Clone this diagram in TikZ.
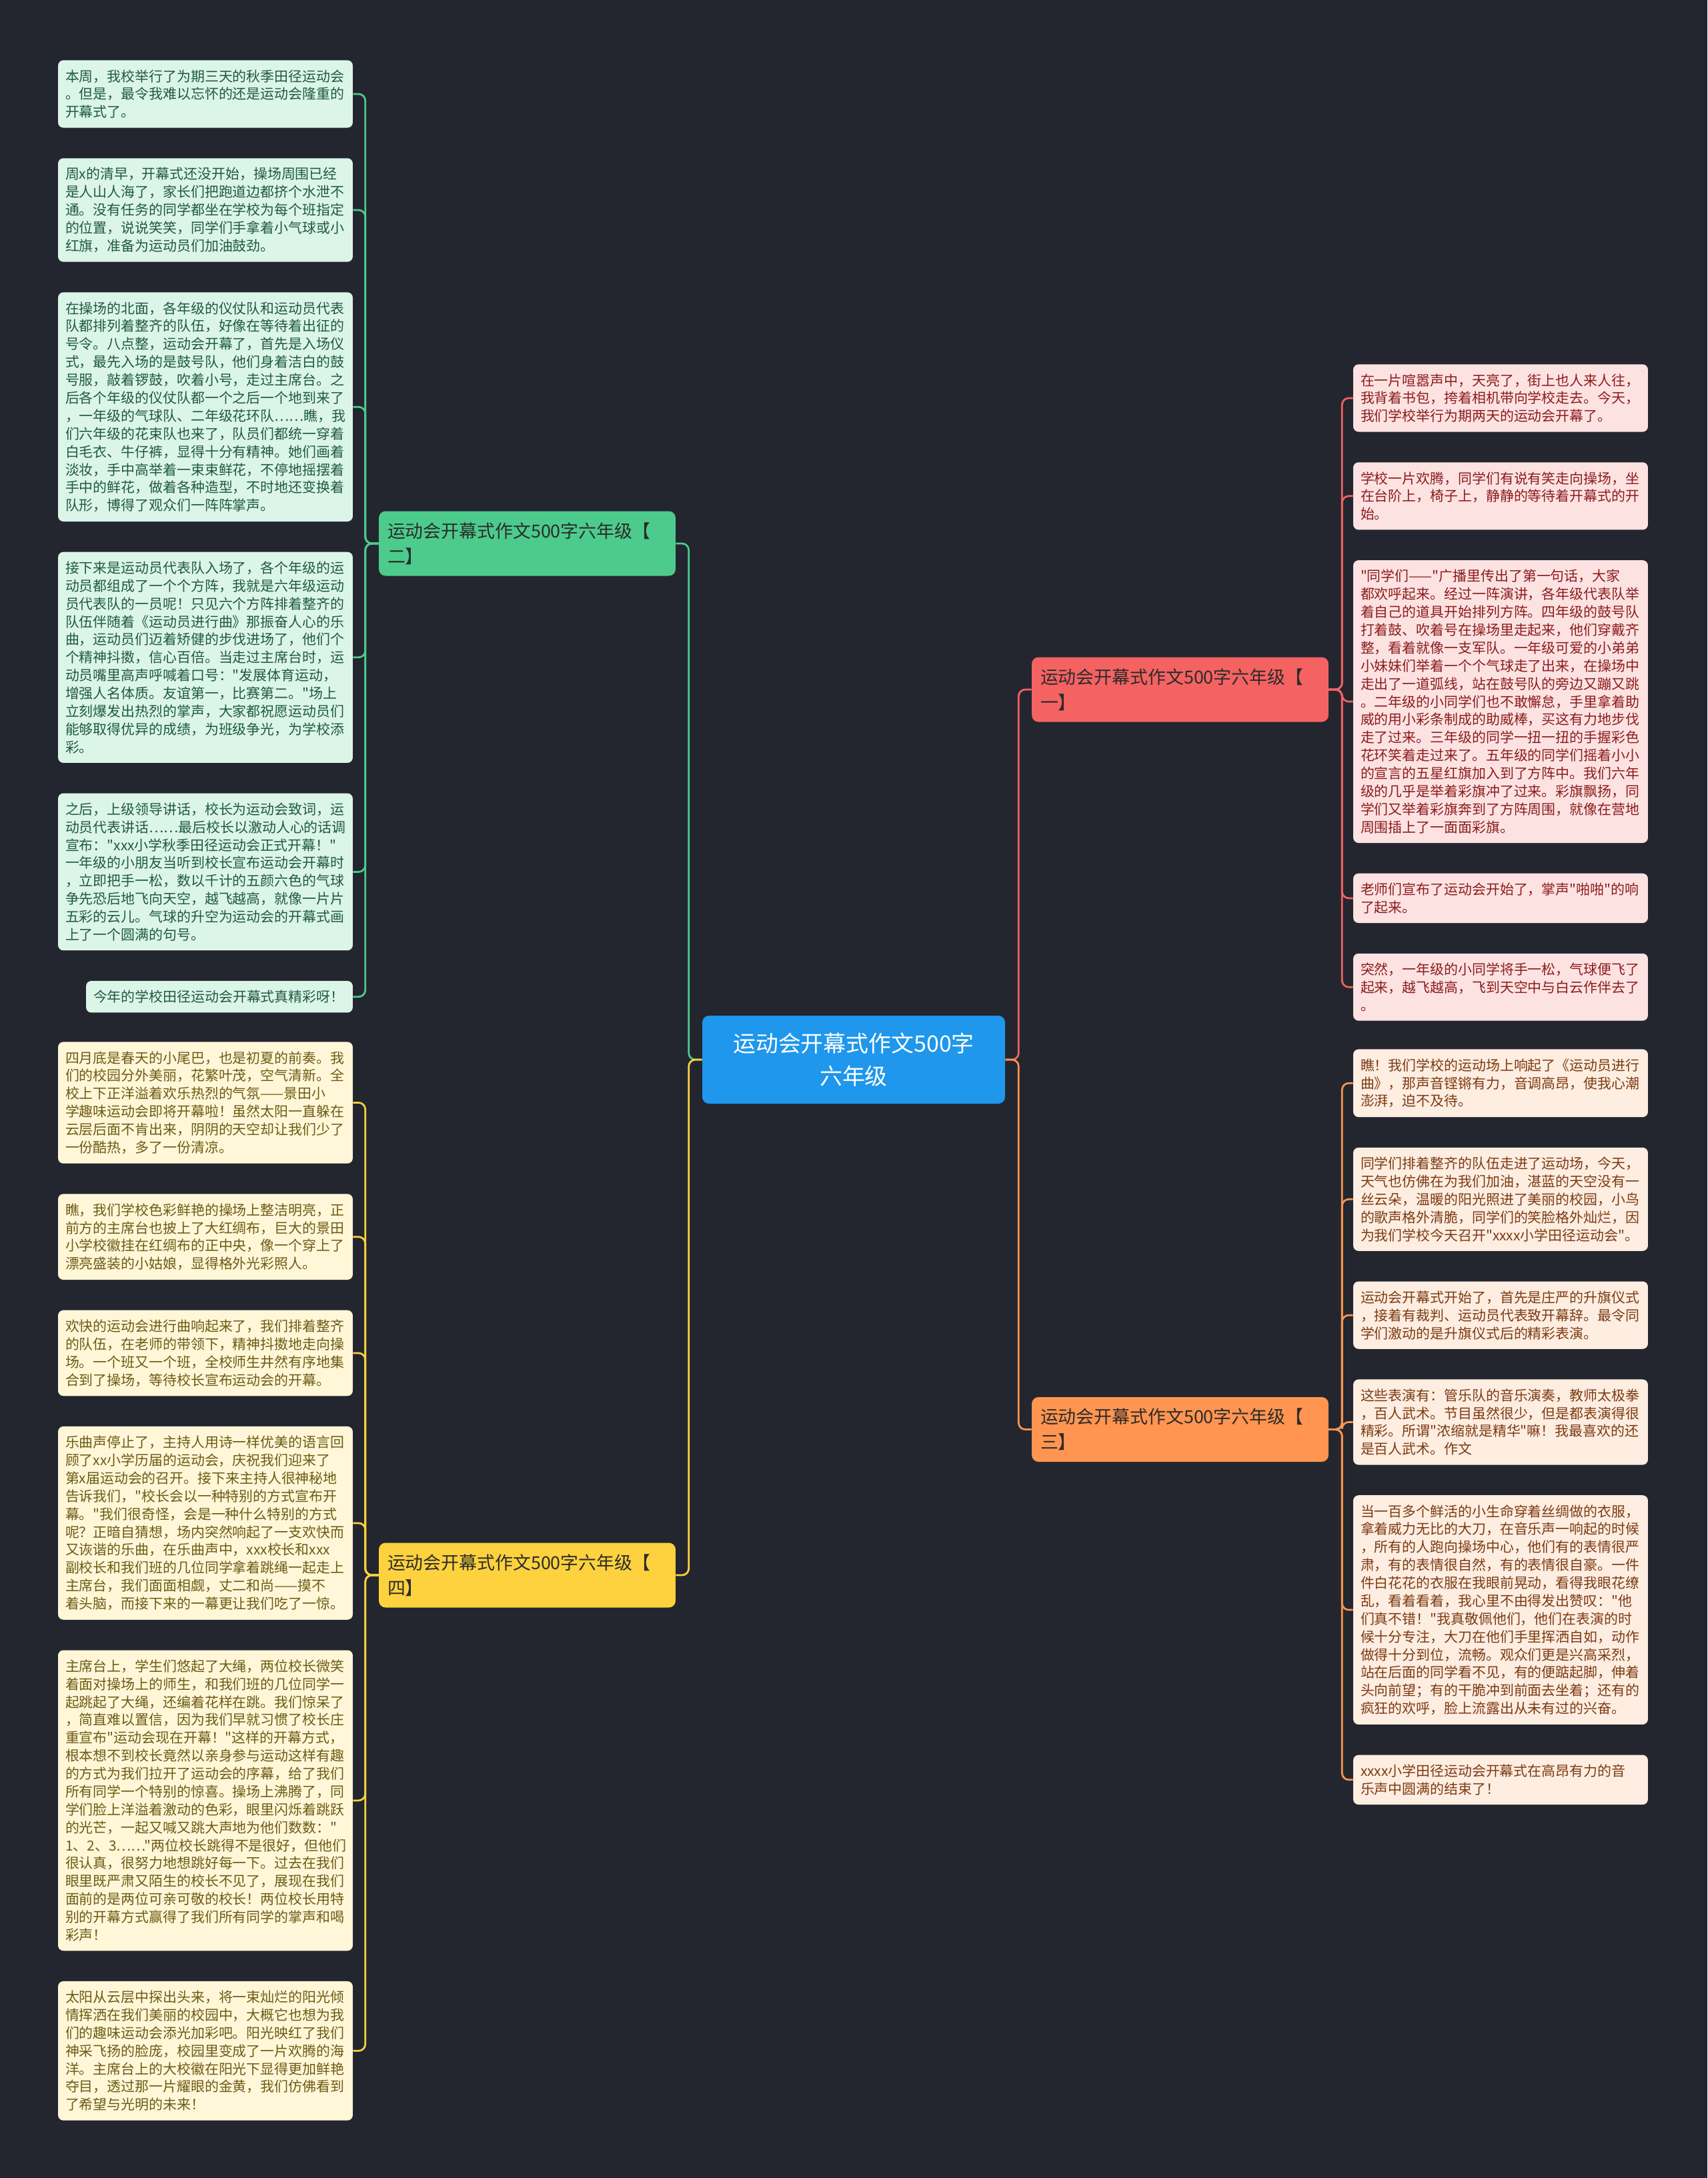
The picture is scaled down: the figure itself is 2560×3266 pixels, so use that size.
\documentclass[tikz,border=0pt]{standalone}
\usepackage{fontspec}
\setmainfont{Noto Sans CJK SC}[Ligatures=TeXOff]
\usepackage{tikz}
\usetikzlibrary{positioning,calc}
\definecolor{MeetBg}{HTML}{23262F}
\definecolor{MeetBlue}{HTML}{1E97EC}
\definecolor{MeetRed}{HTML}{F46262}
\definecolor{MeetGreen}{HTML}{4CCB8D}
\definecolor{MeetOrange}{HTML}{FF9550}
\definecolor{MeetYellow}{HTML}{FDD23E}
\definecolor{MeetPaleRed}{HTML}{FDE2E2}
\definecolor{MeetPaleGreen}{HTML}{DCF5E9}
\definecolor{MeetPaleOrange}{HTML}{FEEDE1}
\definecolor{MeetPaleYellow}{HTML}{FFF7D8}
\definecolor{MeetInkRed}{HTML}{8B1C1C}
\definecolor{MeetInkGreen}{HTML}{1F5A3E}
\definecolor{MeetInkOrange}{HTML}{7B3B12}
\definecolor{MeetInkYellow}{HTML}{6E5A14}
\definecolor{MeetInk}{HTML}{2B2B2B}
\tikzset{
  mhub/.style={fill=MeetBlue,text=white,rounded corners=0.2cm,minimum width=9.08cm,
    minimum height=2.64cm,align=center,font=\fontsize{19.3}{28.3}\selectfont},
  mbranch/.style={rounded corners=0.2cm,text width=8.38cm,inner xsep=0.26cm,
    minimum height=1.94cm,align=left,text=MeetInk,font=\fontsize{15.3}{21.5}\selectfont},
  mleaf/.style={rounded corners=0.16cm,text width=8.4cm,inner xsep=0.22cm,inner ysep=0.28cm,
    align=left,font=\fontsize{11.9}{15.3}\selectfont},
  mlink/.style={line width=0.055cm,rounded corners=0.2cm}
}
\begin{document}
\begin{tikzpicture}[x=0.02cm,y=-0.02cm]
  \tikzset{
    redleaf/.style={mleaf,fill=MeetPaleRed,text=MeetInkRed},
    greenleaf/.style={mleaf,fill=MeetPaleGreen,text=MeetInkGreen},
    orangeleaf/.style={mleaf,fill=MeetPaleOrange,text=MeetInkOrange},
    yellowleaf/.style={mleaf,fill=MeetPaleYellow,text=MeetInkYellow},
    redlink/.style={mlink,MeetRed},
    greenlink/.style={mlink,MeetGreen},
    orangelink/.style={mlink,MeetOrange},
    yellowlink/.style={mlink,MeetYellow}
  }

  \fill[MeetBg] (0,0) rectangle (2560,3266);

  \node[mhub] (hub) at (1280,1589) {运动会开幕式作文500字\\六年级};

  \node[mbranch,fill=MeetRed] (b1) at (1769.5,1034) {运动会开幕式作文500字六年级【\\一】};
  \node[mbranch,fill=MeetGreen] (b2) at (790.5,815) {运动会开幕式作文500字六年级【\\二】};
  \node[mbranch,fill=MeetOrange] (b3) at (1769.5,2143.5) {运动会开幕式作文500字六年级【\\三】};
  \node[mbranch,fill=MeetYellow] (b4) at (790.5,2362) {运动会开幕式作文500字六年级【\\四】};

  \coordinate (hubL) at ($(hub.west)+(-20,0)$);
  \coordinate (hubR) at ($(hub.east)+(20,0)$);
  \draw[redlink] (hub.east) -- (hubR) |- (b1.west);
  \draw[orangelink] (hub.east) -- (hubR) |- (b3.west);
  \draw[greenlink] (hub.west) -- (hubL) |- (b2.east);
  \draw[yellowlink] (hub.west) -- (hubL) |- (b4.east);

  \node[greenleaf,anchor=north] (g1) at (308,90)
    {本周，我校举行了为期三天的秋季田径运动会\\。但是，最令我难以忘怀的还是运动会隆重的\\开幕式了。};
  \node[greenleaf,below=0.9cm of g1] (g2)
    {周x的清早，开幕式还没开始，操场周围已经\\是人山人海了，家长们把跑道边都挤个水泄不\\通。没有任务的同学都坐在学校为每个班指定\\的位置，说说笑笑，同学们手拿着小气球或小\\红旗，准备为运动员们加油鼓劲。};
  \node[greenleaf,below=0.9cm of g2] (g3)
    {在操场的北面，各年级的仪仗队和运动员代表\\队都排列着整齐的队伍，好像在等待着出征的\\号令。八点整，运动会开幕了，首先是入场仪\\式，最先入场的是鼓号队，他们身着洁白的鼓\\号服，敲着锣鼓，吹着小号，走过主席台。之\\后各个年级的仪仗队都一个之后一个地到来了\\，一年级的气球队、二年级花环队……瞧，我\\们六年级的花束队也来了，队员们都统一穿着\\白毛衣、牛仔裤，显得十分有精神。她们画着\\淡妆，手中高举着一束束鲜花，不停地摇摆着\\手中的鲜花，做着各种造型，不时地还变换着\\队形，博得了观众们一阵阵掌声。};
  \node[greenleaf,below=0.9cm of g3] (g4)
    {接下来是运动员代表队入场了，各个年级的运\\动员都组成了一个个方阵，我就是六年级运动\\员代表队的一员呢！只见六个方阵排着整齐的\\队伍伴随着《运动员进行曲》那振奋人心的乐\\曲，运动员们迈着矫健的步伐进场了，他们个\\个精神抖擞，信心百倍。当走过主席台时，运\\动员嘴里高声呼喊着口号："发展体育运动，\\增强人名体质。友谊第一，比赛第二。"场上\\立刻爆发出热烈的掌声，大家都祝愿运动员们\\能够取得优异的成绩，为班级争光，为学校添\\彩。};
  \node[greenleaf,below=0.9cm of g4] (g5)
    {之后，上级领导讲话，校长为运动会致词，运\\动员代表讲话……最后校长以激动人心的话调\\宣布："xxx小学秋季田径运动会正式开幕！"\\一年级的小朋友当听到校长宣布运动会开幕时\\，立即把手一松，数以千计的五颜六色的气球\\争先恐后地飞向天空，越飞越高，就像一片片\\五彩的云儿。气球的升空为运动会的开幕式画\\上了一个圆满的句号。};
  \node[greenleaf,text width=7.56cm,below=0.9cm of g5.south east,anchor=north east] (g6)
    {今年的学校田径运动会开幕式真精彩呀！};

  \node[yellowleaf,anchor=north] (y1) at (308,1562)
    {四月底是春天的小尾巴，也是初夏的前奏。我\\们的校园分外美丽，花繁叶茂，空气清新。全\\校上下正洋溢着欢乐热烈的气氛——景田小\\学趣味运动会即将开幕啦！虽然太阳一直躲在\\云层后面不肯出来，阴阴的天空却让我们少了\\一份酷热，多了一份清凉。};
  \node[yellowleaf,below=0.9cm of y1] (y2)
    {瞧，我们学校色彩鲜艳的操场上整洁明亮，正\\前方的主席台也披上了大红绸布，巨大的景田\\小学校徽挂在红绸布的正中央，像一个穿上了\\漂亮盛装的小姑娘，显得格外光彩照人。};
  \node[yellowleaf,below=0.9cm of y2] (y3)
    {欢快的运动会进行曲响起来了，我们排着整齐\\的队伍，在老师的带领下，精神抖擞地走向操\\场。一个班又一个班，全校师生井然有序地集\\合到了操场，等待校长宣布运动会的开幕。};
  \node[yellowleaf,below=0.9cm of y3] (y4)
    {乐曲声停止了，主持人用诗一样优美的语言回\\顾了xx小学历届的运动会，庆祝我们迎来了\\第x届运动会的召开。接下来主持人很神秘地\\告诉我们，"校长会以一种特别的方式宣布开\\幕。"我们很奇怪，会是一种什么特别的方式\\呢？正暗自猜想，场内突然响起了一支欢快而\\又诙谐的乐曲，在乐曲声中，xxx校长和xxx\\副校长和我们班的几位同学拿着跳绳一起走上\\主席台，我们面面相觑，丈二和尚——摸不\\着头脑，而接下来的一幕更让我们吃了一惊。};
  \node[yellowleaf,below=0.9cm of y4] (y5)
    {主席台上，学生们悠起了大绳，两位校长微笑\\着面对操场上的师生，和我们班的几位同学一\\起跳起了大绳，还编着花样在跳。我们惊呆了\\，简直难以置信，因为我们早就习惯了校长庄\\重宣布"运动会现在开幕！"这样的开幕方式，\\根本想不到校长竟然以亲身参与运动这样有趣\\的方式为我们拉开了运动会的序幕，给了我们\\所有同学一个特别的惊喜。操场上沸腾了，同\\学们脸上洋溢着激动的色彩，眼里闪烁着跳跃\\的光芒，一起又喊又跳大声地为他们数数："\\1、2、3……"两位校长跳得不是很好，但他们\\很认真，很努力地想跳好每一下。过去在我们\\眼里既严肃又陌生的校长不见了，展现在我们\\面前的是两位可亲可敬的校长！两位校长用特\\别的开幕方式赢得了我们所有同学的掌声和喝\\彩声！};
  \node[yellowleaf,below=0.9cm of y5] (y6)
    {太阳从云层中探出头来，将一束灿烂的阳光倾\\情挥洒在我们美丽的校园中，大概它也想为我\\们的趣味运动会添光加彩吧。阳光映红了我们\\神采飞扬的脸庞，校园里变成了一片欢腾的海\\洋。主席台上的大校徽在阳光下显得更加鲜艳\\夺目，透过那一片耀眼的金黄，我们仿佛看到\\了希望与光明的未来！};

  \node[redleaf,anchor=north] (r1) at (2250,546)
    {在一片喧嚣声中，天亮了，街上也人来人往，\\我背着书包，挎着相机带向学校走去。今天，\\我们学校举行为期两天的运动会开幕了。};
  \node[redleaf,below=0.9cm of r1] (r2)
    {学校一片欢腾，同学们有说有笑走向操场，坐\\在台阶上，椅子上，静静的等待着开幕式的开\\始。};
  \node[redleaf,below=0.9cm of r2] (r3)
    {"同学们——"广播里传出了第一句话，大家\\都欢呼起来。经过一阵演讲，各年级代表队举\\着自己的道具开始排列方阵。四年级的鼓号队\\打着鼓、吹着号在操场里走起来，他们穿戴齐\\整，看着就像一支军队。一年级可爱的小弟弟\\小妹妹们举着一个个气球走了出来，在操场中\\走出了一道弧线，站在鼓号队的旁边又蹦又跳\\。二年级的小同学们也不敢懈怠，手里拿着助\\威的用小彩条制成的助威棒，买这有力地步伐\\走了过来。三年级的同学一扭一扭的手握彩色\\花环笑着走过来了。五年级的同学们摇着小小\\的宣言的五星红旗加入到了方阵中。我们六年\\级的几乎是举着彩旗冲了过来。彩旗飘扬，同\\学们又举着彩旗奔到了方阵周围，就像在营地\\周围插上了一面面彩旗。};
  \node[redleaf,below=0.9cm of r3] (r4)
    {老师们宣布了运动会开始了，掌声"啪啪"的响\\了起来。};
  \node[redleaf,below=0.9cm of r4] (r5)
    {突然，一年级的小同学将手一松，气球便飞了\\起来，越飞越高，飞到天空中与白云作伴去了\\。};

  \node[orangeleaf,anchor=north] (o1) at (2250,1573)
    {瞧！我们学校的运动场上响起了《运动员进行\\曲》，那声音铿锵有力，音调高昂，使我心潮\\澎湃，迫不及待。};
  \node[orangeleaf,below=0.9cm of o1] (o2)
    {同学们排着整齐的队伍走进了运动场，今天，\\天气也仿佛在为我们加油，湛蓝的天空没有一\\丝云朵，温暖的阳光照进了美丽的校园，小鸟\\的歌声格外清脆，同学们的笑脸格外灿烂，因\\为我们学校今天召开"xxxx小学田径运动会"。};
  \node[orangeleaf,below=0.9cm of o2] (o3)
    {运动会开幕式开始了，首先是庄严的升旗仪式\\，接着有裁判、运动员代表致开幕辞。最令同\\学们激动的是升旗仪式后的精彩表演。};
  \node[orangeleaf,below=0.9cm of o3] (o4)
    {这些表演有：管乐队的音乐演奏，教师太极拳\\，百人武术。节目虽然很少，但是都表演得很\\精彩。所谓"浓缩就是精华"嘛！我最喜欢的还\\是百人武术。作文};
  \node[orangeleaf,below=0.9cm of o4] (o5)
    {当一百多个鲜活的小生命穿着丝绸做的衣服，\\拿着威力无比的大刀，在音乐声一响起的时候\\，所有的人跑向操场中心，他们有的表情很严\\肃，有的表情很自然，有的表情很自豪。一件\\件白花花的衣服在我眼前晃动，看得我眼花缭\\乱，看着看着，我心里不由得发出赞叹："他\\们真不错！"我真敬佩他们，他们在表演的时\\候十分专注，大刀在他们手里挥洒自如，动作\\做得十分到位，流畅。观众们更是兴高采烈，\\站在后面的同学看不见，有的便踮起脚，伸着\\头向前望；有的干脆冲到前面去坐着；还有的\\疯狂的欢呼，脸上流露出从未有过的兴奋。};
  \node[orangeleaf,below=0.9cm of o5] (o6)
    {xxxx小学田径运动会开幕式在高昂有力的音\\乐声中圆满的结束了！};

  \coordinate (b1j) at ($(b1.east)+(20,0)$);
  \coordinate (b2j) at ($(b2.west)+(-20,0)$);
  \coordinate (b3j) at ($(b3.east)+(20,0)$);
  \coordinate (b4j) at ($(b4.west)+(-20,0)$);
  \foreach \n in {r1,r2,r3,r4,r5}
    \draw[redlink] (b1.east) -- (b1j) |- (\n.west);
  \foreach \n in {g1,g2,g3,g4,g5,g6}
    \draw[greenlink] (b2.west) -- (b2j) |- (\n.east);
  \foreach \n in {o1,o2,o3,o4,o5,o6}
    \draw[orangelink] (b3.east) -- (b3j) |- (\n.west);
  \foreach \n in {y1,y2,y3,y4,y5,y6}
    \draw[yellowlink] (b4.west) -- (b4j) |- (\n.east);
\end{tikzpicture}
\end{document}
